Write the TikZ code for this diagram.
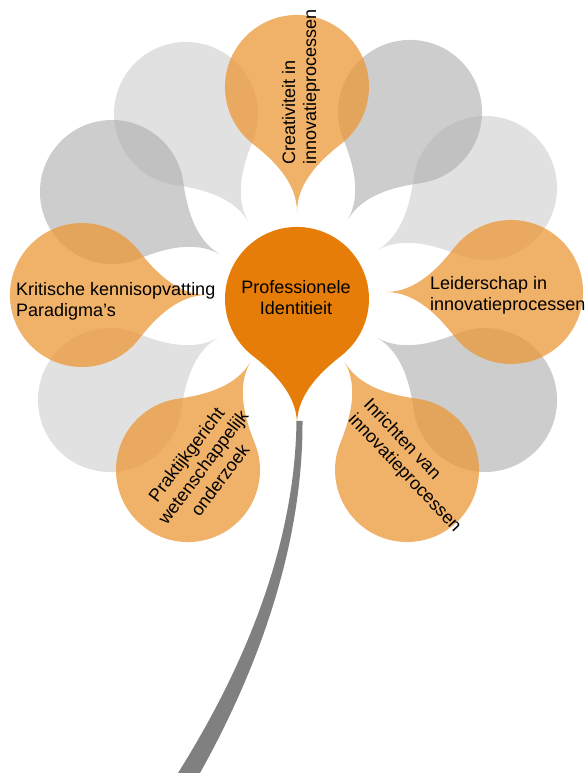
\documentclass[tikz,border=0pt]{standalone}
\usepackage{fontspec}
\setmainfont{Liberation Sans}
\definecolor{petalorange}{RGB}{235,151,55}
\definecolor{graylight}{RGB}{205,205,205}
\definecolor{graydark}{RGB}{172,172,172}
\definecolor{centerorange}{RGB}{229,125,8}
\definecolor{stemgray}{RGB}{128,128,128}
\tikzset{
  lbl/.style={font=\fontsize{18}{21}\selectfont, inner sep=0pt, text=black},
  pOrange/.style={fill=petalorange, fill opacity=0.75},
  pLight/.style={fill=graylight, fill opacity=0.6},
  pDark/.style={fill=graydark, fill opacity=0.6},
  pCenter/.style={fill=centerorange},
}
% #1 x (image px), #2 y (image px, from top), #3 outward angle, #4 style
\newcommand\drawpetal[4]{%
  \begin{scope}[shift={(#1,{773-#2})},rotate=#3]
    \fill[#4] (-125,0) .. controls (-95,0) and (-72.2,-24.55) .. (-56.7,-44.3)
      arc[start angle=218,end angle=502,radius=72pt]
      .. controls (-72.2,24.55) and (-95,0) .. (-125,0) -- cycle;
  \end{scope}}
\begin{document}
\begin{tikzpicture}[x=1pt,y=1pt]
\useasboundingbox (0,0) rectangle (586,773);
% gray petals
\drawpetal{186}{114}{120}{pLight}
\drawpetal{485}{188}{30}{pLight}
\drawpetal{110}{400}{-150}{pLight}
\drawpetal{410}{112}{60}{pDark}
\drawpetal{112}{192}{150}{pDark}
\drawpetal{485}{400}{-30}{pDark}
% orange petals
\drawpetal{297}{87}{90}{pOrange}
\drawpetal{511}{292}{0}{pOrange}
\drawpetal{82}{295}{180}{pOrange}
\drawpetal{188}{470}{-120}{pOrange}
\drawpetal{407}{470}{-60}{pOrange}
% stem
\fill[stemgray] (296.5,352) .. controls (295,233) and (249,113) .. (178,0)
  -- (200,0) .. controls (262,111) and (303,233) .. (302.5,352) -- cycle;
% center
\drawpetal{297}{299}{90}{pCenter}
% texts
\node[lbl, align=center] (center) at (296,475) {Professionele\\Identitieit};
\node[lbl, align=left, anchor=west] (kritisch) at (16,471.5) {Kritische kennisopvatting\\Paradigma’s};
\node[lbl, align=left, anchor=west] (leider) at (430,477.5) {Leiderschap in\\innovatieprocessen};
\node[lbl, align=left, rotate=90] (creat) at (301,686) {Creativiteit in\\innovatieprocessen};
\node[lbl, align=center, rotate=53] (prakt) at (203,306) {Praktijkgericht\\wetenschappelijk\\onderzoek};
\node[lbl, align=left, rotate=-46.5] (inricht) at (412,307) {Inrichten van\\innovatieprocessen};
\end{tikzpicture}
\end{document}
